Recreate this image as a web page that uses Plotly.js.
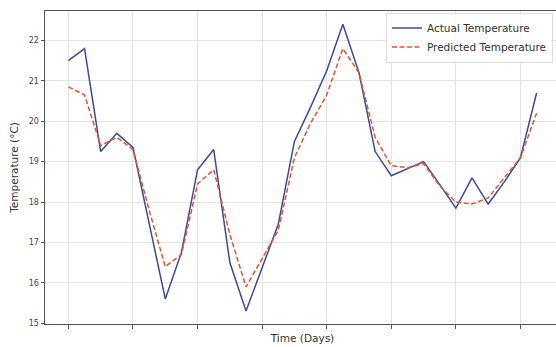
<!DOCTYPE html>
<html>
<head>
<meta charset="utf-8">
<script src="https://cdn.plot.ly/plotly-3.0.1.min.js"></script>
<style>
html,body{margin:0;padding:0;overflow:hidden;background:#fff;}
#chart{width:600px;height:347px;}
</style>
</head>
<body>
<div id="chart"></div>
<script>
const days = [0,1,2,3,4,5,6,7,8,9,10,11,12,13,14,15,16,17,18,19,20,21,22,23,24,25,26,27,28,29];
const actualTemp = [21.5, 21.8, 19.25, 19.7, 19.35, 17.5, 15.6, 16.75, 18.8, 19.3, 16.5, 15.3, 16.4, 17.45, 19.5, 20.35, 21.25, 22.4, 21.2, 19.25, 18.65, 18.82, 19.0, 18.43, 17.85, 18.6, 17.95, 18.5, 19.1, 20.7];
const predictedTemp = [20.85, 20.65, 19.4, 19.6, 19.3, 17.8, 16.4, 16.7, 18.45, 18.8, 17.2, 15.9, 16.6, 17.3, 19.1, 19.95, 20.65, 21.8, 21.2, 19.6, 18.9, 18.85, 18.95, 18.4, 18.0, 17.95, 18.1, 18.6, 19.1, 20.2];
const xTickVals = [0,4,8,12,16,20,24,28];
const yTickVals = [15,16,17,18,19,20,21,22];

const font = "DejaVu Sans, sans-serif";
const traces = [
  {x: days, y: actualTemp, type: 'scatter', mode: 'lines', name: 'Actual Temperature',
   line: {color: '#3b4a9e', width: 1.5}},
  {x: days, y: predictedTemp, type: 'scatter', mode: 'lines', name: 'Predicted Temperature',
   line: {color: '#e4552f', width: 1.5, dash: '5px,2.5px'}}
];
const layout = {
  width: 600, height: 347,
  margin: {l: 45, r: 40, t: 11, b: 23},
  paper_bgcolor: '#fff', plot_bgcolor: '#fff',
  font: {family: font, size: 9, color: '#333'},
  showlegend: true,
  legend: {x: 0.662, y: 0.995, xanchor: 'left', yanchor: 'top',
           bgcolor: 'rgba(255,255,255,0.8)', bordercolor: '#ddd', borderwidth: 1,
           font: {family: font, size: 10.5, color: '#333'}, itemwidth: 30,
           tracegroupgap: 0},
  xaxis: {range: [-1.45, 30.45], tickvals: xTickVals, ticktext: xTickVals.map(() => ''),
          showgrid: true, gridcolor: '#e3e3e3', gridwidth: 1,
          showline: true, linecolor: '#555', linewidth: 1, mirror: true,
          ticks: 'outside', ticklen: 3.5, tickcolor: '#555', zeroline: false,
          title: {text: 'Time (Days)', font: {family: font, size: 10.5, color: '#333'}, standoff: 5}},
  yaxis: {range: [14.98, 22.73], tickvals: yTickVals,
          showgrid: true, gridcolor: '#e3e3e3', gridwidth: 1,
          showline: true, linecolor: '#555', linewidth: 1, mirror: true,
          ticks: 'outside', ticklen: 3.5, tickcolor: '#555', zeroline: false,
          tickfont: {family: font, size: 8, color: '#444'},
          title: {text: 'Temperature (°C)', font: {family: font, size: 10.5, color: '#333'}, standoff: 8}}
};
Plotly.newPlot('chart', traces, layout, {displayModeBar: false, staticPlot: true});
</script>
</body>
</html>
